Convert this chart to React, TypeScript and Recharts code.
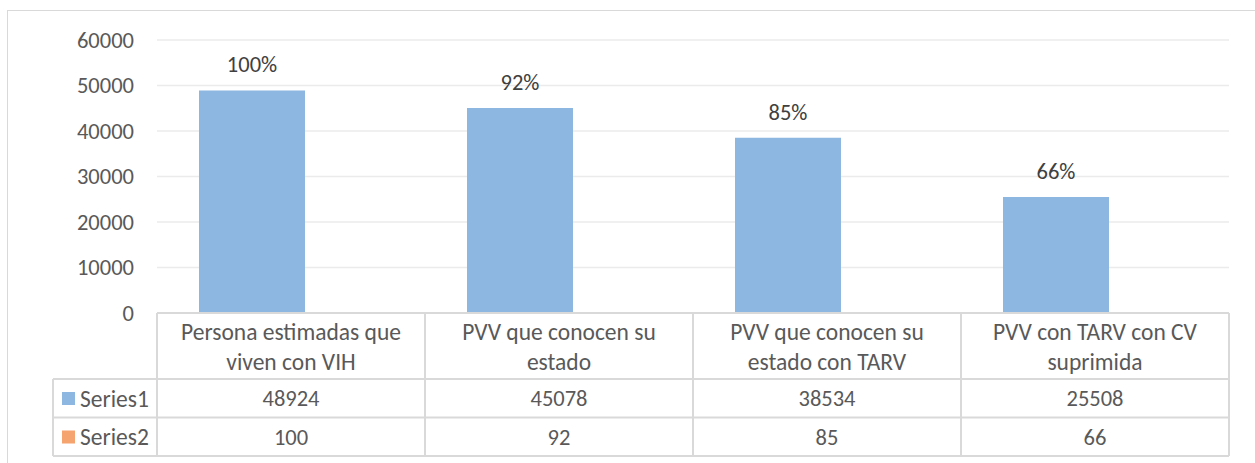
import { BarChart, Bar, XAxis, YAxis, CartesianGrid, LabelList } from "recharts"

const categories = [
  "Persona estimadas que viven con VIH",
  "PVV que conocen su estado",
  "PVV que conocen su estado con TARV",
  "PVV con TARV con CV suprimida",
]
const series1 = [48924, 45078, 38534, 25508]
const series2 = [100, 92, 85, 66]
const yTicks = [0, 10000, 20000, 30000, 40000, 50000, 60000]

const seriesNames = ["Series1", "Series2"]
const seriesColors = ["#8DB6E0", "#F5A470"]

const data = categories.map((name, i) => ({ name, s1: series1[i], s2: series2[i] }))

const W = 1255
const H = 463
const PLOT_LEFT = 157
const PLOT_RIGHT = 1229
const BAND = (PLOT_RIGHT - PLOT_LEFT) / categories.length
const FONT = "Carlito, Lato, 'Open Sans', sans-serif"
const LINE = "#D9D9D9"
const TXT = "#595959"
const WORD_SIZE = 23.5
const NUM_SIZE = 22.5

const wrap = (s: string, max = 22) => {
  const lines: string[] = []
  let cur = ""
  s.split(" ").forEach((w) => {
    const next = cur ? cur + " " + w : w
    if (next.length > max && cur) {
      lines.push(cur)
      cur = w
    } else cur = next
  })
  if (cur) lines.push(cur)
  return lines
}

const ROW_CAT = 66
const ROW = 38.5
const SW = 2

function TableTick({ x, y, payload }: any) {
  const i = payload.index
  const left = x - BAND / 2
  const right = x + BAND / 2
  const lines = wrap(categories[i])
  const r1 = y + ROW_CAT
  const r2 = r1 + ROW
  const r3 = r2 + ROW
  return (
    <g fontFamily={FONT} fill={TXT}>
      {i === 0 && (
        <g>
          <line x1={53} y1={r1} x2={left} y2={r1} stroke={LINE} strokeWidth={SW} />
          <line x1={53} y1={r2} x2={left} y2={r2} stroke={LINE} strokeWidth={SW} />
          <line x1={53} y1={r3} x2={left} y2={r3} stroke={LINE} strokeWidth={SW} />
          <line x1={53} y1={r1} x2={53} y2={r3} stroke={LINE} strokeWidth={SW} />
          <line x1={left} y1={y} x2={left} y2={r3} stroke={LINE} strokeWidth={SW} />
          {seriesNames.map((n, k) => (
            <g key={n}>
              <rect x={62} y={r1 + k * ROW + 13} width={13} height={13} fill={seriesColors[k]} />
              <text x={80} y={r1 + k * ROW + ROW / 2} dy="0.36em" fontSize={WORD_SIZE} fill={TXT}>
                {n}
              </text>
            </g>
          ))}
        </g>
      )}
      <line x1={left} y1={y} x2={right} y2={y} stroke={LINE} strokeWidth={SW} />
      <line x1={left} y1={r1} x2={right} y2={r1} stroke={LINE} strokeWidth={SW} />
      <line x1={left} y1={r2} x2={right} y2={r2} stroke={LINE} strokeWidth={SW} />
      <line x1={left} y1={r3} x2={right} y2={r3} stroke={LINE} strokeWidth={SW} />
      <line x1={right} y1={y} x2={right} y2={r3} stroke={LINE} strokeWidth={SW} />
      {lines.map((l, k) => (
        <text key={k} x={x} y={y + 19 + k * 30} dy="0.36em" textAnchor="middle" fontSize={WORD_SIZE} fill={TXT}>
          {l}
        </text>
      ))}
      <text x={x} y={r1 + ROW / 2} dy="0.36em" textAnchor="middle" fontSize={NUM_SIZE} fill={TXT}>
        {series1[i]}
      </text>
      <text x={x} y={r2 + ROW / 2} dy="0.36em" textAnchor="middle" fontSize={NUM_SIZE} fill={TXT}>
        {series2[i]}
      </text>
    </g>
  )
}

const PctLabel = ({ x, y, width, index }: any) => (
  <text x={x + width / 2} y={y - 18} textAnchor="middle" fontFamily={FONT} fontSize={22.5} fill="#404040">
    {`${series2[index]}%`}
  </text>
)

export default function App() {
  return (
    <div style={{ position: "absolute", left: 0, top: 0, width: W, height: H, background: "#fff", overflow: "hidden" }}>
      <div
        style={{
          position: "absolute",
          left: 7,
          top: 10,
          width: W,
          height: H,
          borderTop: `1px solid ${LINE}`,
          borderLeft: `1px solid ${LINE}`,
        }}
      />
      <div style={{ position: "absolute", left: 0, top: 0 }}>
        <BarChart
          width={W}
          height={H}
          data={data}
          margin={{ top: 40, right: W - PLOT_RIGHT, left: 0, bottom: 0 }}
          barSize={106}
          barGap={-28}
          barCategoryGap={42}
        >
          <CartesianGrid vertical={false} stroke="#EBEBEB" strokeWidth={1.3} />
          <YAxis
            width={PLOT_LEFT}
            domain={[0, 60000]}
            ticks={yTicks}
            axisLine={false}
            tickLine={false}
            tickSize={0}
            tickMargin={23}
            tick={{ fill: TXT, fontSize: NUM_SIZE, fontFamily: FONT }}
          />
          <XAxis
            dataKey="name"
            height={150}
            axisLine={false}
            tickLine={false}
            tickSize={0}
            tickMargin={0}
            interval={0}
            tick={<TableTick />}
          />
          <Bar dataKey="s1" name={seriesNames[0]} fill={seriesColors[0]} isAnimationActive={false}>
            <LabelList content={<PctLabel />} />
          </Bar>
          <Bar dataKey="s2" name={seriesNames[1]} fill={seriesColors[1]} isAnimationActive={false} />
        </BarChart>
      </div>
    </div>
  )
}
